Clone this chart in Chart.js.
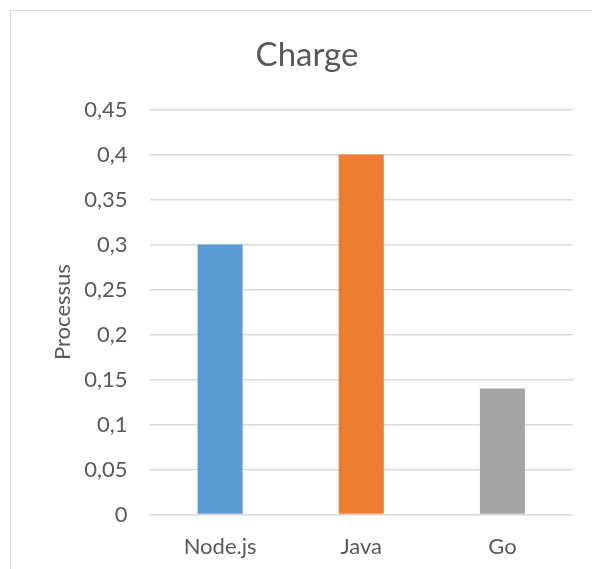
<!DOCTYPE html>
<html>
<head>
<meta charset="utf-8">
<script src="https://cdn.jsdelivr.net/npm/chart.js@4/dist/chart.umd.min.js"></script>
<style>
    html, body { margin: 0; padding: 0; background: #fff; overflow: hidden; }
    #wrap { position: relative; width: 592px; height: 569px; }
    #frame { position: absolute; left: 10px; top: 10px; width: 700px; height: 700px;
             border-left: 1px solid #d9d9d9; border-top: 1px solid #d9d9d9; }
    #chart { position: absolute; left: 0; top: 0; }
</style>
</head>
<body>
<div id="wrap">
    <div id="frame"></div>
    <canvas id="chart" width="592" height="569"></canvas>
</div>
<script>
const languages = ['Node.js', 'Java', 'Go'];
const charge = [0.3, 0.4, 0.14];
const barColors = ['#5b9bd5', '#ed7d31', '#a5a5a5'];
const yMax = 0.45;
const yStep = 0.05;

const textColor = '#595959';
const gridColor = '#d9d9d9';

Chart.defaults.font.family = 'Lato';
Chart.defaults.color = textColor;

// french style decimals: 0,25
function frNumber(v) {
    return String(Number(v.toFixed(2))).replace('.', ',');
}

const ctx = document.getElementById('chart').getContext('2d');
new Chart(ctx, {
    type: 'bar',
    data: {
        labels: languages,
        datasets: [{
            label: 'Processus',
            data: charge,
            backgroundColor: barColors,
            borderWidth: 0,
            categoryPercentage: 1,
            barPercentage: 0.319
        }]
    },
    options: {
        responsive: false,
        animation: false,
        layout: { padding: { left: 41, right: 19, top: 0, bottom: 0 } },
        plugins: {
            legend: { display: false },
            tooltip: { enabled: false },
            title: {
                display: true,
                text: 'Charge',
                color: textColor,
                font: { size: 33, weight: 'normal' },
                padding: { top: 36, bottom: 34 }
            }
        },
        scales: {
            x: {
                grid: { display: false, drawTicks: false },
                border: { display: false },
                ticks: { padding: 19, font: { size: 22 }, color: textColor },
                afterFit: (scale) => { scale.height = 54.5; }
            },
            y: {
                min: 0,
                max: yMax,
                grid: { color: gridColor, lineWidth: 1.5, drawTicks: false },
                border: { display: false },
                ticks: {
                    stepSize: yStep,
                    padding: 22,
                    font: { size: 22 },
                    color: textColor,
                    callback: (v) => frNumber(v)
                },
                title: {
                    display: true,
                    text: 'Processus',
                    color: textColor,
                    font: { size: 22 },
                    padding: { top: 9, bottom: 0 }
                },
                afterFit: (scale) => { scale.width = 108.5; }
            }
        }
    }
});
</script>
</body>
</html>
